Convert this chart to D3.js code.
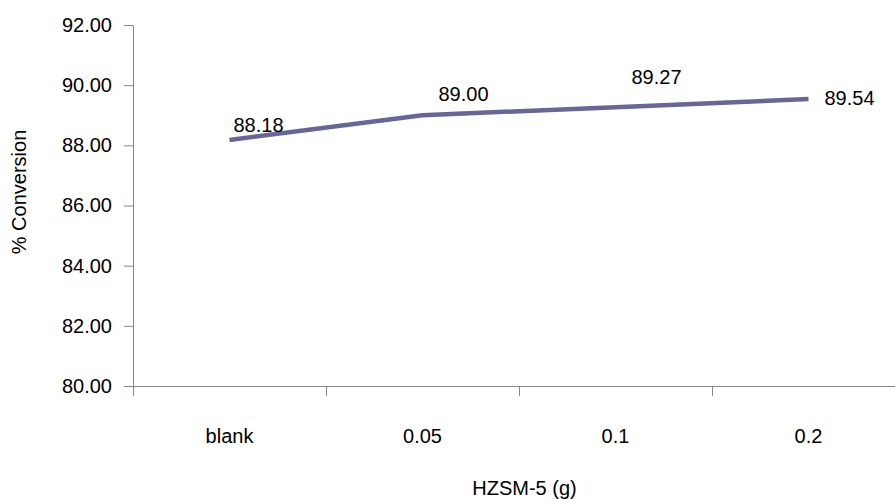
<!DOCTYPE html>
<html>
<head>
<meta charset="utf-8">
<script src="https://cdn.jsdelivr.net/npm/d3@7"></script>
<style>
  html, body { margin: 0; padding: 0; background: #fff; }
  svg { display: block; font-family: Arial, "Liberation Sans", sans-serif; }
</style>
</head>
<body>
<svg id="chart" width="895" height="499"></svg>
<script>
// ---- data ----
const categories = ["blank", "0.05", "0.1", "0.2"];
const conversion = [88.18, 89.00, 89.27, 89.54];
const yTicks = [80, 82, 84, 86, 88, 90, 92];
const xTitle = "HZSM-5 (g)";
const yTitle = "% Conversion";
// label placement offsets (dx, dy) relative to each point
const labelOffsets = [[4, -8], [16, -14], [16, -23], [16, 6]];

// ---- layout ----
const svg = d3.select("#chart");
const plotLeft = 133, plotRight = 905, plotTop = 25, plotBottom = 386;
const axisColor = "#888888";
const lineColor = "#666699";
const fs = 20;

const x = d3.scaleBand().domain(categories).range([plotLeft, plotRight]).paddingInner(0).paddingOuter(0);
const y = d3.scaleLinear().domain([80, 92]).range([plotBottom, plotTop]);

// y axis
const yAxis = svg.append("g")
  .attr("transform", `translate(${plotLeft},0)`)
  .call(d3.axisLeft(y).tickValues(yTicks).tickFormat(d3.format(".2f")).tickSize(9).tickSizeOuter(0).tickPadding(12));
yAxis.selectAll("path, line").attr("stroke", axisColor).attr("stroke-width", 1);
yAxis.selectAll("text").attr("font-size", fs).attr("fill", "#000").attr("font-family", "Arial, 'Liberation Sans', sans-serif");

// x axis line
svg.append("line")
  .attr("x1", plotLeft).attr("x2", plotRight)
  .attr("y1", plotBottom + 0.5).attr("y2", plotBottom + 0.5)
  .attr("stroke", axisColor).attr("stroke-width", 1);

// x tick marks at band boundaries
const bounds = categories.map(c => x(c)).concat([x(categories[categories.length - 1]) + x.bandwidth()]);
svg.selectAll(".xtick").data(bounds).enter().append("line")
  .attr("x1", d => Math.round(d) + 0.5).attr("x2", d => Math.round(d) + 0.5)
  .attr("y1", plotBottom).attr("y2", plotBottom + 10)
  .attr("stroke", axisColor).attr("stroke-width", 1);

// x labels
svg.selectAll(".xlab").data(categories).enter().append("text")
  .attr("x", d => x(d) + x.bandwidth() / 2)
  .attr("y", 443)
  .attr("text-anchor", "middle")
  .attr("font-size", fs)
  .attr("fill", "#000")
  .text(d => d);

// line
const pts = categories.map((c, i) => ({ c, v: conversion[i], i }));
const line = d3.line().x(d => x(d.c) + x.bandwidth() / 2).y(d => y(d.v));
svg.append("path")
  .datum(pts)
  .attr("d", line)
  .attr("fill", "none")
  .attr("stroke", lineColor)
  .attr("stroke-width", 4.5)
  .attr("stroke-linejoin", "round");

// data labels
svg.selectAll(".dlab").data(pts).enter().append("text")
  .attr("x", d => x(d.c) + x.bandwidth() / 2 + labelOffsets[d.i][0])
  .attr("y", d => y(d.v) + labelOffsets[d.i][1])
  .attr("font-size", fs)
  .attr("fill", "#000")
  .text(d => d.v.toFixed(2));

// titles
svg.append("text")
  .attr("x", 524.5).attr("y", 495)
  .attr("text-anchor", "middle")
  .attr("font-size", fs)
  .attr("fill", "#000")
  .text(xTitle);

svg.append("text")
  .attr("transform", "translate(26,192) rotate(-90)")
  .attr("text-anchor", "middle")
  .attr("font-size", fs)
  .attr("fill", "#000")
  .text(yTitle);
</script>
</body>
</html>
